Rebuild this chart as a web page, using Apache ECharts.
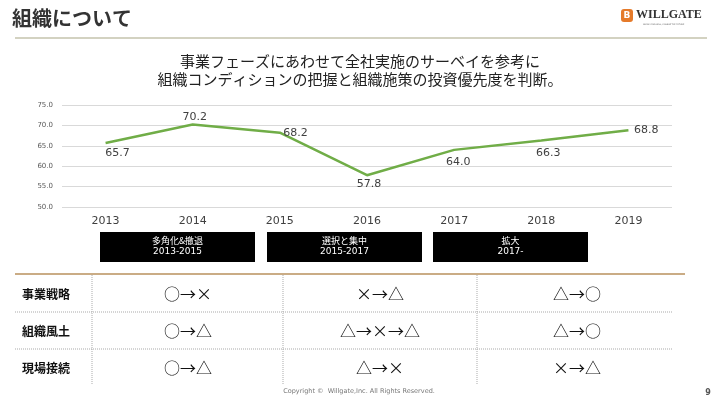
<!DOCTYPE html>
<html><head><meta charset="utf-8">
<script src="https://cdn.jsdelivr.net/npm/echarts@6/dist/echarts.min.js"></script>
<style>html,body{margin:0;padding:0;background:#fff}#c{width:720px;height:405px}</style>
</head><body><div id="c"></div>
<script>
const years = ['2013','2014','2015','2016','2017','2018','2019'];
const scores = [65.7, 70.2, 68.2, 57.8, 64.0, 66.3, 68.8];
const yTicks = [50, 55, 60, 65, 70, 75];
const phaseNames = ['多角化&撤退', '選択と集中', '拡大'];
const phaseYears = ['2013-2015', '2015-2017', '2017-'];
const rowLabels = ['事業戦略', '組織風土', '現場接続'];
const cells = [
  ['○→×', '×→△', '△→○'],
  ['○→△', '△→×→△', '△→○'],
  ['○→△', '△→×', '×→△']
];
const titleText = '組織について';
const subtitleLines = ['事業フェーズにあわせて全社実施のサーベイを参考に', '組織コンディションの把握と組織施策の投資優先度を判断。'];

const JP = '"Noto Sans CJK JP", sans-serif';
const NUM = '"DejaVu Sans", Verdana, sans-serif';

const labelPos = [
  {position:'bottom', offset:[12,-1]},
  {position:'top', offset:[2,4]},
  {position:'right', offset:[-2,0]},
  {position:'bottom', offset:[2,-2]},
  {position:'bottom', offset:[4,1]},
  {position:'bottom', offset:[7,2]},
  {position:'right', offset:[0,0]}
];

const chart = echarts.init(document.getElementById('c'), null, {renderer:'canvas'});
const g = [];
// header
g.push({type:'text', left:12, top:8, style:{text:titleText, font:'bold 20px '+JP, fill:'#333'}});
g.push({type:'line', shape:{x1:15,y1:38,x2:707,y2:38}, style:{stroke:'#a8a583', lineWidth:1.2}});
// logo
g.push({type:'rect', shape:{x:621,y:9,width:12,height:13,r:3}, style:{fill:'#e57a2a'}});
g.push({type:'text', x:627, y:15.5, style:{text:'B', font:'bold 9px '+NUM, fill:'#fff', align:'center', verticalAlign:'middle'}});
g.push({type:'text', x:636, y:15, style:{text:'WILLGATE', font:'bold 12px "Liberation Serif", serif', fill:'#333', verticalAlign:'middle'}});
g.push({type:'text', x:643, y:24, style:{text:'GROW YOUR WILL, CHANGE THE FUTURE', font:'2px '+NUM, fill:'#555', verticalAlign:'middle'}});
// subtitle
subtitleLines.forEach((t,i)=>g.push({type:'text', x:360, y:61+i*18, style:{text:t, font:'15px '+JP, fill:'#222', align:'center', verticalAlign:'middle'}}));
// phase boxes
const boxX = [100, 267, 433];
phaseNames.forEach((n,i)=>{
  g.push({type:'rect', shape:{x:boxX[i], y:232, width:155, height:30}, style:{fill:'#000'}});
  g.push({type:'text', x:boxX[i]+77.5, y:240.5, style:{text:n, font:'9px '+JP, fill:'#fff', align:'center', verticalAlign:'middle'}});
  g.push({type:'text', x:boxX[i]+77.5, y:251.5, style:{text:phaseYears[i], font:'9px '+NUM, fill:'#fff', align:'center', verticalAlign:'middle'}});
});
// table
g.push({type:'line', shape:{x1:15,y1:274,x2:685,y2:274}, style:{stroke:'#b8905c', lineWidth:1.5}});
[312, 349].forEach(y=>g.push({type:'line', shape:{x1:15,y1:y,x2:672,y2:y}, style:{stroke:'#aaa', lineWidth:1, lineDash:[1,1]}}));
[92, 283, 477].forEach(x=>g.push({type:'line', shape:{x1:x,y1:275,x2:x,y2:385}, style:{stroke:'#aaa', lineWidth:1, lineDash:[1,1]}}));
const rowY = [294, 331, 368];
const colX = [188, 380, 577];
rowLabels.forEach((r,i)=>{
  g.push({type:'text', x:46, y:rowY[i], style:{text:r, font:'bold 12px '+JP, fill:'#111', align:'center', verticalAlign:'middle'}});
  cells[i].forEach((c,j)=>g.push({type:'text', x:colX[j], y:rowY[i], style:{text:c, font:'16px '+JP, fill:'#111', align:'center', verticalAlign:'middle'}}));
});
// footer
g.push({type:'text', x:359, y:391, style:{text:'Copyright ©  Willgate,Inc. All Rights Reserved.', font:'6.5px '+NUM, fill:'#777', align:'center', verticalAlign:'middle'}});
g.push({type:'text', x:708, y:393, style:{text:'9', font:'bold 8px '+NUM, fill:'#555', align:'center', verticalAlign:'middle'}});

chart.setOption({
  animation:false,
  grid:{left:62, right:48, top:105, bottom:198},
  xAxis:{type:'category', data:years, boundaryGap:true,
    axisLine:{show:false}, axisTick:{show:false},
    axisLabel:{margin:9, fontFamily:NUM, fontSize:11, color:'#404040'}},
  yAxis:{type:'value', min:yTicks[0], max:yTicks[yTicks.length-1], interval:5,
    axisLine:{show:false}, axisTick:{show:false},
    splitLine:{lineStyle:{color:'#d9d9d9', width:1}},
    axisLabel:{margin:9, fontFamily:NUM, fontSize:7, color:'#595959', formatter:v=>v.toFixed(1)}},
  series:[{type:'line', data:scores.map((v,i)=>({value:v, label:labelPos[i]})), showSymbol:true, symbol:'circle', symbolSize:1,
    lineStyle:{color:'#70ad47', width:2.5}, itemStyle:{color:'rgba(0,0,0,0)'},
    label:{show:true, fontFamily:NUM, fontSize:11, color:'#404040', formatter:p=>p.value.toFixed(1)}}],
  graphic:g
});
</script></body></html>
